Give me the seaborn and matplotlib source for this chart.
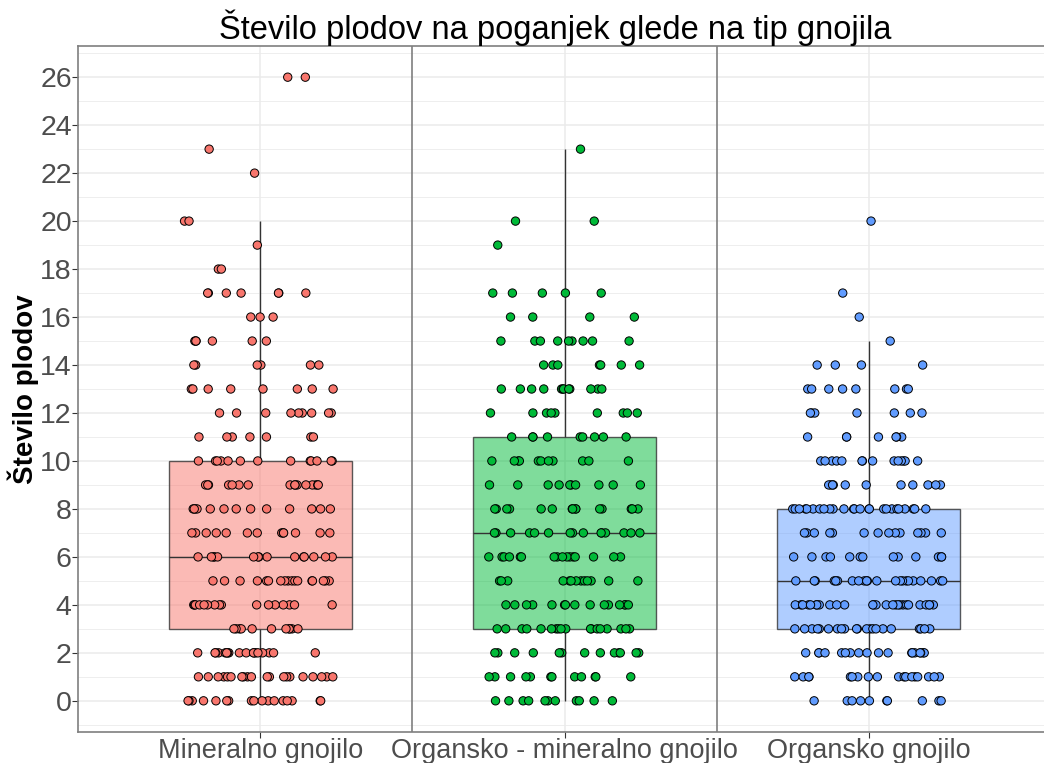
import numpy as np
import pandas as pd
import matplotlib.pyplot as plt
import seaborn as sns
from matplotlib.colors import to_rgba

groups = ['Mineralno gnojilo', 'Organsko - mineralno gnojilo', 'Organsko gnojilo']
colors = ['#F8766D', '#00BA38', '#619CFF']

# number of shoots with each fruit count
min_vals = [0, 1, 2, 3, 4, 5, 6, 7, 8, 9, 10, 11, 12, 13, 14, 15, 16, 17, 18, 19, 20, 22, 23, 26]
min_cnts = [17, 20, 18, 11, 16, 17, 15, 13, 13, 16, 13, 7, 9, 8, 6, 6, 3, 7, 2, 1, 2, 1, 1, 2]

orgmin_vals = [0, 1, 2, 3, 4, 5, 6, 7, 8, 9, 10, 11, 12, 13, 14, 15, 16, 17, 19, 20, 23]
orgmin_cnts = [11, 12, 13, 18, 15, 13, 16, 15, 15, 10, 11, 9, 9, 12, 7, 9, 4, 5, 1, 2, 1]

org_vals = [0, 1, 2, 3, 4, 5, 6, 7, 8, 9, 10, 11, 12, 13, 14, 15, 16, 17, 20]
org_cnts = [10, 18, 18, 21, 27, 22, 13, 14, 25, 11, 14, 7, 7, 8, 4, 1, 1, 1, 1]

frames = []
for g, v, c in zip(groups, [min_vals, orgmin_vals, org_vals], [min_cnts, orgmin_cnts, org_cnts]):
    frames.append(pd.DataFrame({'Gnojilo': g, 'Plodovi': np.repeat(v, c)}))
df = pd.concat(frames, ignore_index=True)

sns.set_style('white')
plt.rcParams['font.family'] = ['Liberation Sans', 'DejaVu Sans']

fig = plt.figure(figsize=(10.44, 7.63), dpi=100)
ax = fig.add_axes([78 / 1044, 1 - 732 / 763, (1051 - 78) / 1044, (732 - 46) / 763])

# grid
for y in range(-1, 28):
    ax.axhline(y, color='#ebebeb', lw=0.6 if y % 2 else 1.1, zorder=0)
for x in range(3):
    ax.axvline(x, color='#ebebeb', lw=1.1, zorder=0)
for x in [0.5, 1.5]:
    ax.axvline(x, color='#7f7f7f', lw=1.2, zorder=1)

sns.boxplot(data=df, x='Gnojilo', y='Plodovi', hue='Gnojilo', palette=colors, order=groups,
            width=0.6, showfliers=False, showcaps=False, saturation=1, linewidth=1.0,
            linecolor='#333333', whis=1.5, legend=False, ax=ax)
for p, c in zip(ax.patches, colors):
    p.set_facecolor(to_rgba(c, 0.5))
    p.set_edgecolor(to_rgba('#333333', 0.8))

np.random.seed(3)
sns.stripplot(data=df, x='Gnojilo', y='Plodovi', hue='Gnojilo', palette=colors, order=groups,
              jitter=0.25, size=6, linewidth=0.7, edgecolor='black', legend=False, ax=ax, zorder=3)

ax.set_xlim(-0.6, 2.6)
ax.set_ylim(-1.3, 27.3)
ax.set_yticks(range(0, 27, 2))
ax.tick_params(axis='y', labelsize=20.5, labelcolor='#4d4d4d', length=4, color='#333333', left=True, pad=0.5)
ax.tick_params(axis='x', labelsize=19.5, labelcolor='#4d4d4d', length=4, color='#333333', bottom=True, pad=0.5)
for s in ax.spines.values():
    s.set_color('#7f7f7f')
    s.set_linewidth(1.2)

ax.set_xlabel('')
ax.set_ylabel('Število plodov', fontsize=20, fontweight='bold', color='black', labelpad=1)
fig.text(555 / 1044, 1 - 28 / 763, 'Število plodov na poganjek glede na tip gnojila',
         ha='center', va='center', fontsize=23.5, color='black')

plt.savefig('out.png', dpi=100)
